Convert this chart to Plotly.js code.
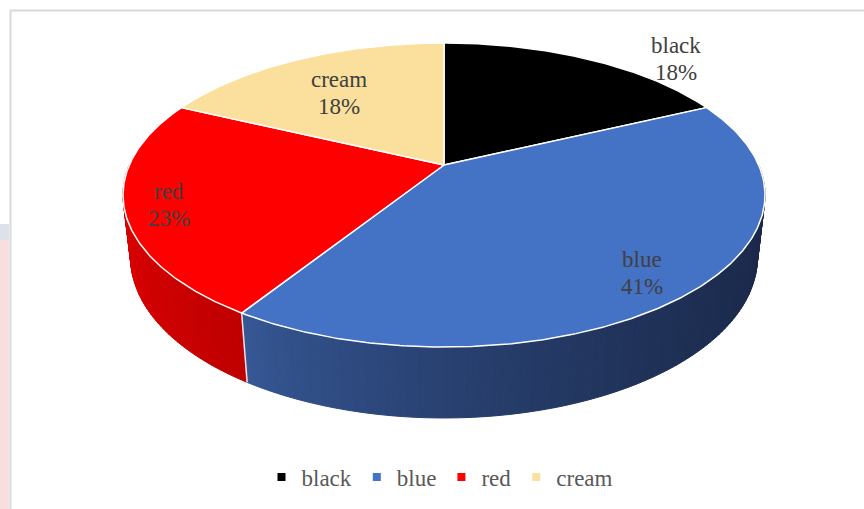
<!DOCTYPE html>
<html>
<head>
<meta charset="utf-8">
<script src="https://cdn.plot.ly/plotly-3.0.1.min.js"></script>
<style>html,body{margin:0;padding:0;background:#fff;}#chart{width:864px;height:509px;}</style>
</head>
<body>
<div id="chart"></div>
<script>
// ---- data ----
const categories = ['black', 'blue', 'red', 'cream'];
const values = [18, 41, 23, 18];
const topColors = ['#000000', '#4472C4', '#FF0000', '#FAE09C'];
// side wall shading: [left rgb, right rgb]
const sideColors = [
  [[20, 20, 20], [5, 5, 5]],
  [[54, 88, 150], [27, 42, 76]],
  [[214, 0, 0], [190, 0, 0]],
  [[230, 205, 140], [200, 180, 120]]
];
// label anchor (centre x, baseline of first line) in pixels
const labelPos = [[676, 53], [642, 267], [169, 199], [339, 87]];

// ---- perspective camera for the 3-D pie ----
const CX = 444, CY = 165, FOC = 1412, DIST = 4.487, SA = 0.4643, CA = 0.886, DEPTH = 0.2253;
function projXYZ(X, Y, Z) {
  const d = DIST + Y * CA - Z * SA;
  const up = Y * SA + Z * CA;
  return [CX + FOC * X / d, CY - FOC * up / d];
}
function rim(thetaDeg, z) {
  const t = thetaDeg * Math.PI / 180;
  return projXYZ(Math.sin(t), Math.cos(t), z);
}

const total = values.reduce((a, b) => a + b, 0);
const bounds = [];
let cum = 0;
values.forEach(v => { bounds.push([cum / total * 360, (cum + v) / total * 360]); cum += v; });

const traces = [];

// side wall strips (front half only)
const SIDE_A = 90, SIDE_B = 270;
let edges = [SIDE_A];
for (let t = SIDE_A + 1; t < SIDE_B; t += 1) edges.push(t);
bounds.forEach(b => { if (b[0] > SIDE_A && b[0] < SIDE_B) edges.push(b[0]); });
edges.push(SIDE_B);
edges = Array.from(new Set(edges)).sort((a, b) => a - b);
const xMinSide = rim(258.6, 0)[0], xMaxSide = rim(101.4, 0)[0];
for (let k = 0; k < edges.length - 1; k++) {
  const ta = edges[k], tb = edges[k + 1];
  const mid = (ta + tb) / 2;
  const si = bounds.findIndex(b => mid >= b[0] && mid < b[1]);
  const sb = bounds[si];
  const lo = Math.max(sb[0], SIDE_A), hi = Math.min(sb[1], SIDE_B);
  const xl = Math.min(rim(lo, 0)[0], rim(hi, 0)[0], xMaxSide);
  const xr = Math.min(Math.max(rim(lo, 0)[0], rim(hi, 0)[0]), xMaxSide);
  let xm = rim(mid, 0)[0];
  let f = (Math.min(xm, xMaxSide) - Math.max(xl, xMinSide)) / Math.max(1, (xr - Math.max(xl, xMinSide)));
  f = Math.max(0, Math.min(1, f));
  f = Math.pow(f, 0.75);
  const c0 = sideColors[si][0], c1 = sideColors[si][1];
  const col = 'rgb(' + c0.map((c, j) => Math.round(c + (c1[j] - c) * f)).join(',') + ')';
  const p1 = rim(ta, 0), p2 = rim(tb, 0), p3 = rim(tb, -DEPTH), p4 = rim(ta, -DEPTH);
  traces.push({
    type: 'scatter', mode: 'lines', fill: 'toself', fillcolor: col,
    x: [p1[0], p2[0], p3[0], p4[0], p1[0]], y: [p1[1], p2[1], p3[1], p4[1], p1[1]],
    line: {color: col, width: 1}, showlegend: false, hoverinfo: 'skip'
  });
}
// white edges on the side between slices
bounds.forEach(b => {
  if (b[0] > SIDE_A && b[0] < SIDE_B) {
    const p = rim(b[0], 0), q = rim(b[0], -DEPTH);
    traces.push({type: 'scatter', mode: 'lines', x: [p[0], q[0]], y: [p[1], q[1]],
      line: {color: 'rgba(255,255,255,0.9)', width: 1.5}, showlegend: false, hoverinfo: 'skip'});
  }
});

// top faces
const apex = projXYZ(0, 0, 0);
bounds.forEach((b, i) => {
  const xs = [apex[0]], ys = [apex[1]];
  const n = Math.max(2, Math.ceil((b[1] - b[0]) / 0.5));
  for (let k = 0; k <= n; k++) {
    const p = rim(b[0] + (b[1] - b[0]) * k / n, 0);
    xs.push(p[0]); ys.push(p[1]);
  }
  xs.push(apex[0]); ys.push(apex[1]);
  traces.push({
    type: 'scatter', mode: 'lines', fill: 'toself', fillcolor: topColors[i],
    x: xs, y: ys, line: {color: '#ffffff', width: 1.5},
    name: categories[i], showlegend: false, hoverinfo: 'skip'
  });
});

// legend entries
categories.forEach((c, i) => {
  traces.push({
    type: 'scatter', mode: 'markers', x: [null], y: [null], name: c,
    marker: {symbol: 'square', size: 8, color: topColors[i]}, showlegend: true
  });
});

// labels
const annotations = [];
categories.forEach((c, i) => {
  const pct = Math.round(values[i] / total * 100) + '%';
  const [lx, ly] = labelPos[i];
  [c, pct].forEach((t, j) => {
    annotations.push({
      x: lx, y: ly - 8 + j * 27, xref: 'x', yref: 'y', text: t, showarrow: false,
      xanchor: 'center', yanchor: 'middle',
      font: {family: 'Liberation Serif, Times New Roman, serif', size: 23, color: '#404040'}
    });
  });
});

const layout = {
  width: 864, height: 509,
  margin: {l: 0, r: 0, t: 0, b: 0, pad: 0},
  paper_bgcolor: '#ffffff', plot_bgcolor: '#ffffff',
  xaxis: {range: [0, 864], visible: false, fixedrange: true},
  yaxis: {range: [509, 0], visible: false, fixedrange: true},
  showlegend: true,
  legend: {
    orientation: 'h', x: 0.5 + 8 / 864, xanchor: 'center', y: 1 - 477 / 509, yanchor: 'middle',
    font: {family: 'Liberation Serif, Times New Roman, serif', size: 23, color: '#595959'},
    bgcolor: 'rgba(0,0,0,0)', itemclick: false, itemdoubleclick: false
  },
  annotations: annotations,
  shapes: [
    {type: 'rect', xref: 'x', yref: 'y', x0: 0, x1: 9, y0: 224, y1: 240, fillcolor: '#DCE1EA', line: {width: 0}, layer: 'below'},
    {type: 'rect', xref: 'x', yref: 'y', x0: 0, x1: 9, y0: 240, y1: 509, fillcolor: '#F9DEDF', line: {width: 0}, layer: 'below'},
    {type: 'line', xref: 'x', yref: 'y', x0: 10, x1: 864, y0: 10.5, y1: 10.5, line: {color: '#D9D9D9', width: 2}, layer: 'below'},
    {type: 'line', xref: 'x', yref: 'y', x0: 10.5, x1: 10.5, y0: 10, y1: 509, line: {color: '#D9D9D9', width: 2}, layer: 'below'}
  ]
};

Plotly.newPlot('chart', traces, layout, {staticPlot: true, displayModeBar: false});
</script>
</body>
</html>
